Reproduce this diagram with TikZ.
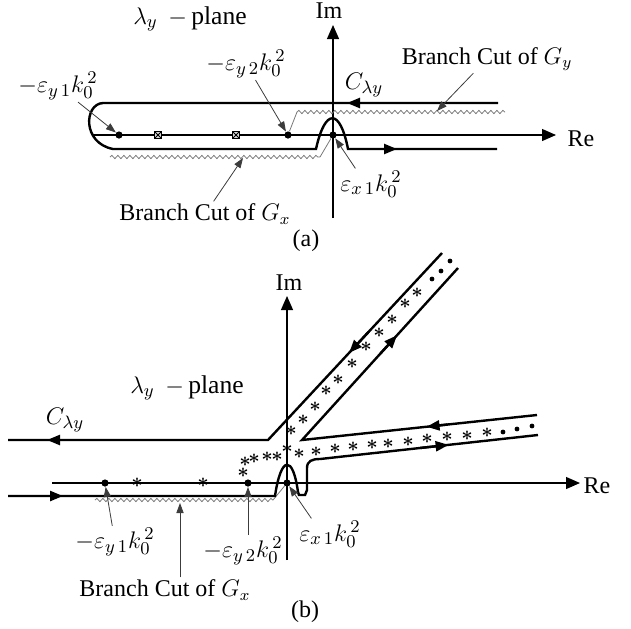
\documentclass[tikz,border=0pt]{standalone}
\usepackage{fontspec}
\setmainfont{Liberation Serif}
\usetikzlibrary{arrows.meta,calc,decorations.pathmorphing}
\definecolor{cutgray}{RGB}{120,120,120}
\definecolor{ptrgray}{RGB}{60,60,60}

\tikzset{
  contour/.style={line width=1.2pt},
  flow/.style={line width=1.2pt,-{Triangle[length=6.5pt,width=5pt]}},
  axis/.style={line width=0.6pt,-{Triangle[length=7pt,width=6pt]}},
  cut/.style={cutgray,line width=0.4pt,decorate,decoration={snake,amplitude=0.8pt,segment length=3pt}},
  cutlink/.style={cutgray,line width=0.4pt},
  pointer/.style={ptrgray,line width=0.4pt,-{Triangle[length=5pt,width=3.6pt]}},
  pole/.style={circle,fill,inner sep=0pt,minimum size=3.6pt},
  xbox/.style={draw,fill=gray!30,line width=0.4pt,inner sep=0pt,minimum size=3.8pt,
    path picture={\draw[line width=0.4pt]
      (path picture bounding box.south west) -- (path picture bounding box.north east)
      (path picture bounding box.north west) -- (path picture bounding box.south east);}},
  zero/.style={inner sep=0pt,font=\normalsize\boldmath},
  lbl/.style={inner sep=1pt,font=\fontsize{12}{14}\selectfont},
  mlbl/.style={inner sep=1pt,font=\fontsize{12.8}{15}\selectfont},
}

\begin{document}
\begin{tikzpicture}[x=0.5pt,y=-0.5pt]
\useasboundingbox (0,0) rectangle (631,628);

% ---- (a) ----
\draw[axis] (93,135) -- (556,135);
\draw[axis] (333,218) -- (333,25);
\node[lbl] (imA) at (329,11) {Im};
\node[lbl] (reA) at (581,139) {Re};
\node[mlbl] (planeA) at (190,19) {$\lambda_y$ \,$-$\,plane};

\node[pole] (y1a) at (119,135) {};
\node[pole] (y2a) at (288,135) {};
\node[pole] (x1a) at (333,135) {};
\node[xbox] (za1) at (158,135) {};
\node[xbox] (za2) at (236,135) {};

% branch cuts
\draw[cutlink] (y2a) -- (297,112);
\draw[cut] (297,112) -- (505,112);
\draw[cut] (110,157) -- (320,157);
\draw[cutlink] (320,157) -- (x1a);
\coordinate (gya) at (437,111);
\coordinate (gxa) at (243,158);

% contour
\draw[contour] (498,103) -- (103,103) .. controls (84,104) and (82,143) .. (113,149)
  -- (316,149) .. controls (325,108) and (340,108) .. (348,149) -- (497,149);
\draw[flow] (370,103) -- (347,103);
\draw[flow] (378,149) -- (397,149);

\node[mlbl] (ey1A) at (58,86) {$-\varepsilon_{y\,1}k_0^{\,2}$};
\node[mlbl] (ey2A) at (246,64) {$-\varepsilon_{y\,2}k_0^{\,2}$};
\node[mlbl] (ex1A) at (371,184) {$\varepsilon_{x\,1}k_0^{\,2}$};
\node[mlbl] (CA) at (364,85) {$C_{\lambda y}$};
\node[lbl] (cutGy) at (487,59) {Branch Cut of $G_y$};
\node[lbl] (cutGxA) at (205,214) {Branch Cut of $G_x$};
\node[lbl] (capA) at (306,241) {(a)};

\draw[pointer] (ey1A) -- (y1a);
\draw[pointer] (ey2A) -- (y2a);
\draw[pointer] (ex1A.135) -- (x1a);
\draw[pointer] (cutGy) -- (gya);
\draw[pointer] (cutGxA) -- (gxa);

% ---- (b) ----
\draw[axis] (52,483) -- (580,483);
\draw[axis] (287,560) -- (287,296);
\node[lbl] (imB) at (289,283) {Im};
\node[lbl] (reB) at (597,486) {Re};
\node[mlbl] (planeB) at (187,388) {$\lambda_y$ \,$-$\,plane};

\node[pole] (y1b) at (105,483) {};
\node[pole] (y2b) at (248,483) {};
\node[pole] (x1b) at (287,483) {};

\draw[cut] (95,500) -- (273,500);
\draw[cutlink] (273,500) -- (x1b);
\coordinate (gxb) at (180,503);

% contour
\coordinate (bL) at (8,440);
\coordinate (bK) at (268,440);
\coordinate (bT) at (442,253);
\coordinate (bV) at (302,440);
\coordinate (bT2) at (458,268);
\coordinate (bR1) at (537,415);
\coordinate (bS) at (320,459);
\coordinate (bR2) at (538,435);
\draw[contour] (bT) -- (bK) -- (bL);
\draw[contour] (bT2) -- (bV) -- (bR1);
\draw[contour] (8,496) -- (275,496) .. controls (281,455) and (293,455) .. (298,492)
  -- (299,495) -- (305,495) -- (307,490) -- (307,468)
  .. controls (307,461) and (312,459) .. (bS) -- (bR2);
\draw[flow] (66,440) -- (47,440);
\draw[flow] (44,496) -- (63,496);
\draw[flow] ($(bT)!0.42!(bK)$) -- ($(bT)!0.534!(bK)$);
\draw[flow] ($(bV)!0.50!(bT2)$) -- ($(bV)!0.609!(bT2)$);
\draw[flow] ($(bR1)!0.38!(bV)$) -- ($(bR1)!0.47!(bV)$);
\draw[flow] ($(bS)!0.46!(bR2)$) -- ($(bS)!0.59!(bR2)$);

% zeros
\foreach \p [count=\i] in {(417,293),(405,304),(392,320),(379,333),(366,347),(352,364),
    (338,380),(326,391),(315,407),(303,420),(291,431),
    (299,454),(316,452),(335,449),(353,447),(372,445),(388,444),(408,442),(427,439),
    (447,437),(467,436),(487,433),
    (243,473),(245,462),(254,459),(267,457),(277,457),(287,449),
    (137,483),(203,483)}
  \node[zero] (s\i) at \p {$\ast$};
\foreach \p [count=\i] in {(450,261),(441,271),(432,279),(503,432),(517,429),(532,426)}
  \fill \p circle (1.2pt);

\node[mlbl] (CB) at (65,420) {$C_{\lambda y}$};
\node[mlbl] (ey1B) at (115,542) {$-\varepsilon_{y\,1}k_0^{\,2}$};
\node[mlbl] (ey2B) at (243,551) {$-\varepsilon_{y\,2}k_0^{\,2}$};
\node[mlbl] (ex1B) at (330,534) {$\varepsilon_{x\,1}k_0^{\,2}$};
\node[lbl] (cutGxB) at (165,590) {Branch Cut of $G_x$};
\node[lbl] (capB) at (305,612) {(b)};

\draw[pointer] (ey1B) -- (y1b);
\draw[pointer] (ey2B.north -| y2b) -- (y2b);
\draw[pointer] (ex1B.140) -- (x1b);
\draw[pointer] (cutGxB.north -| gxb) -- (gxb);
\end{tikzpicture}
\end{document}
